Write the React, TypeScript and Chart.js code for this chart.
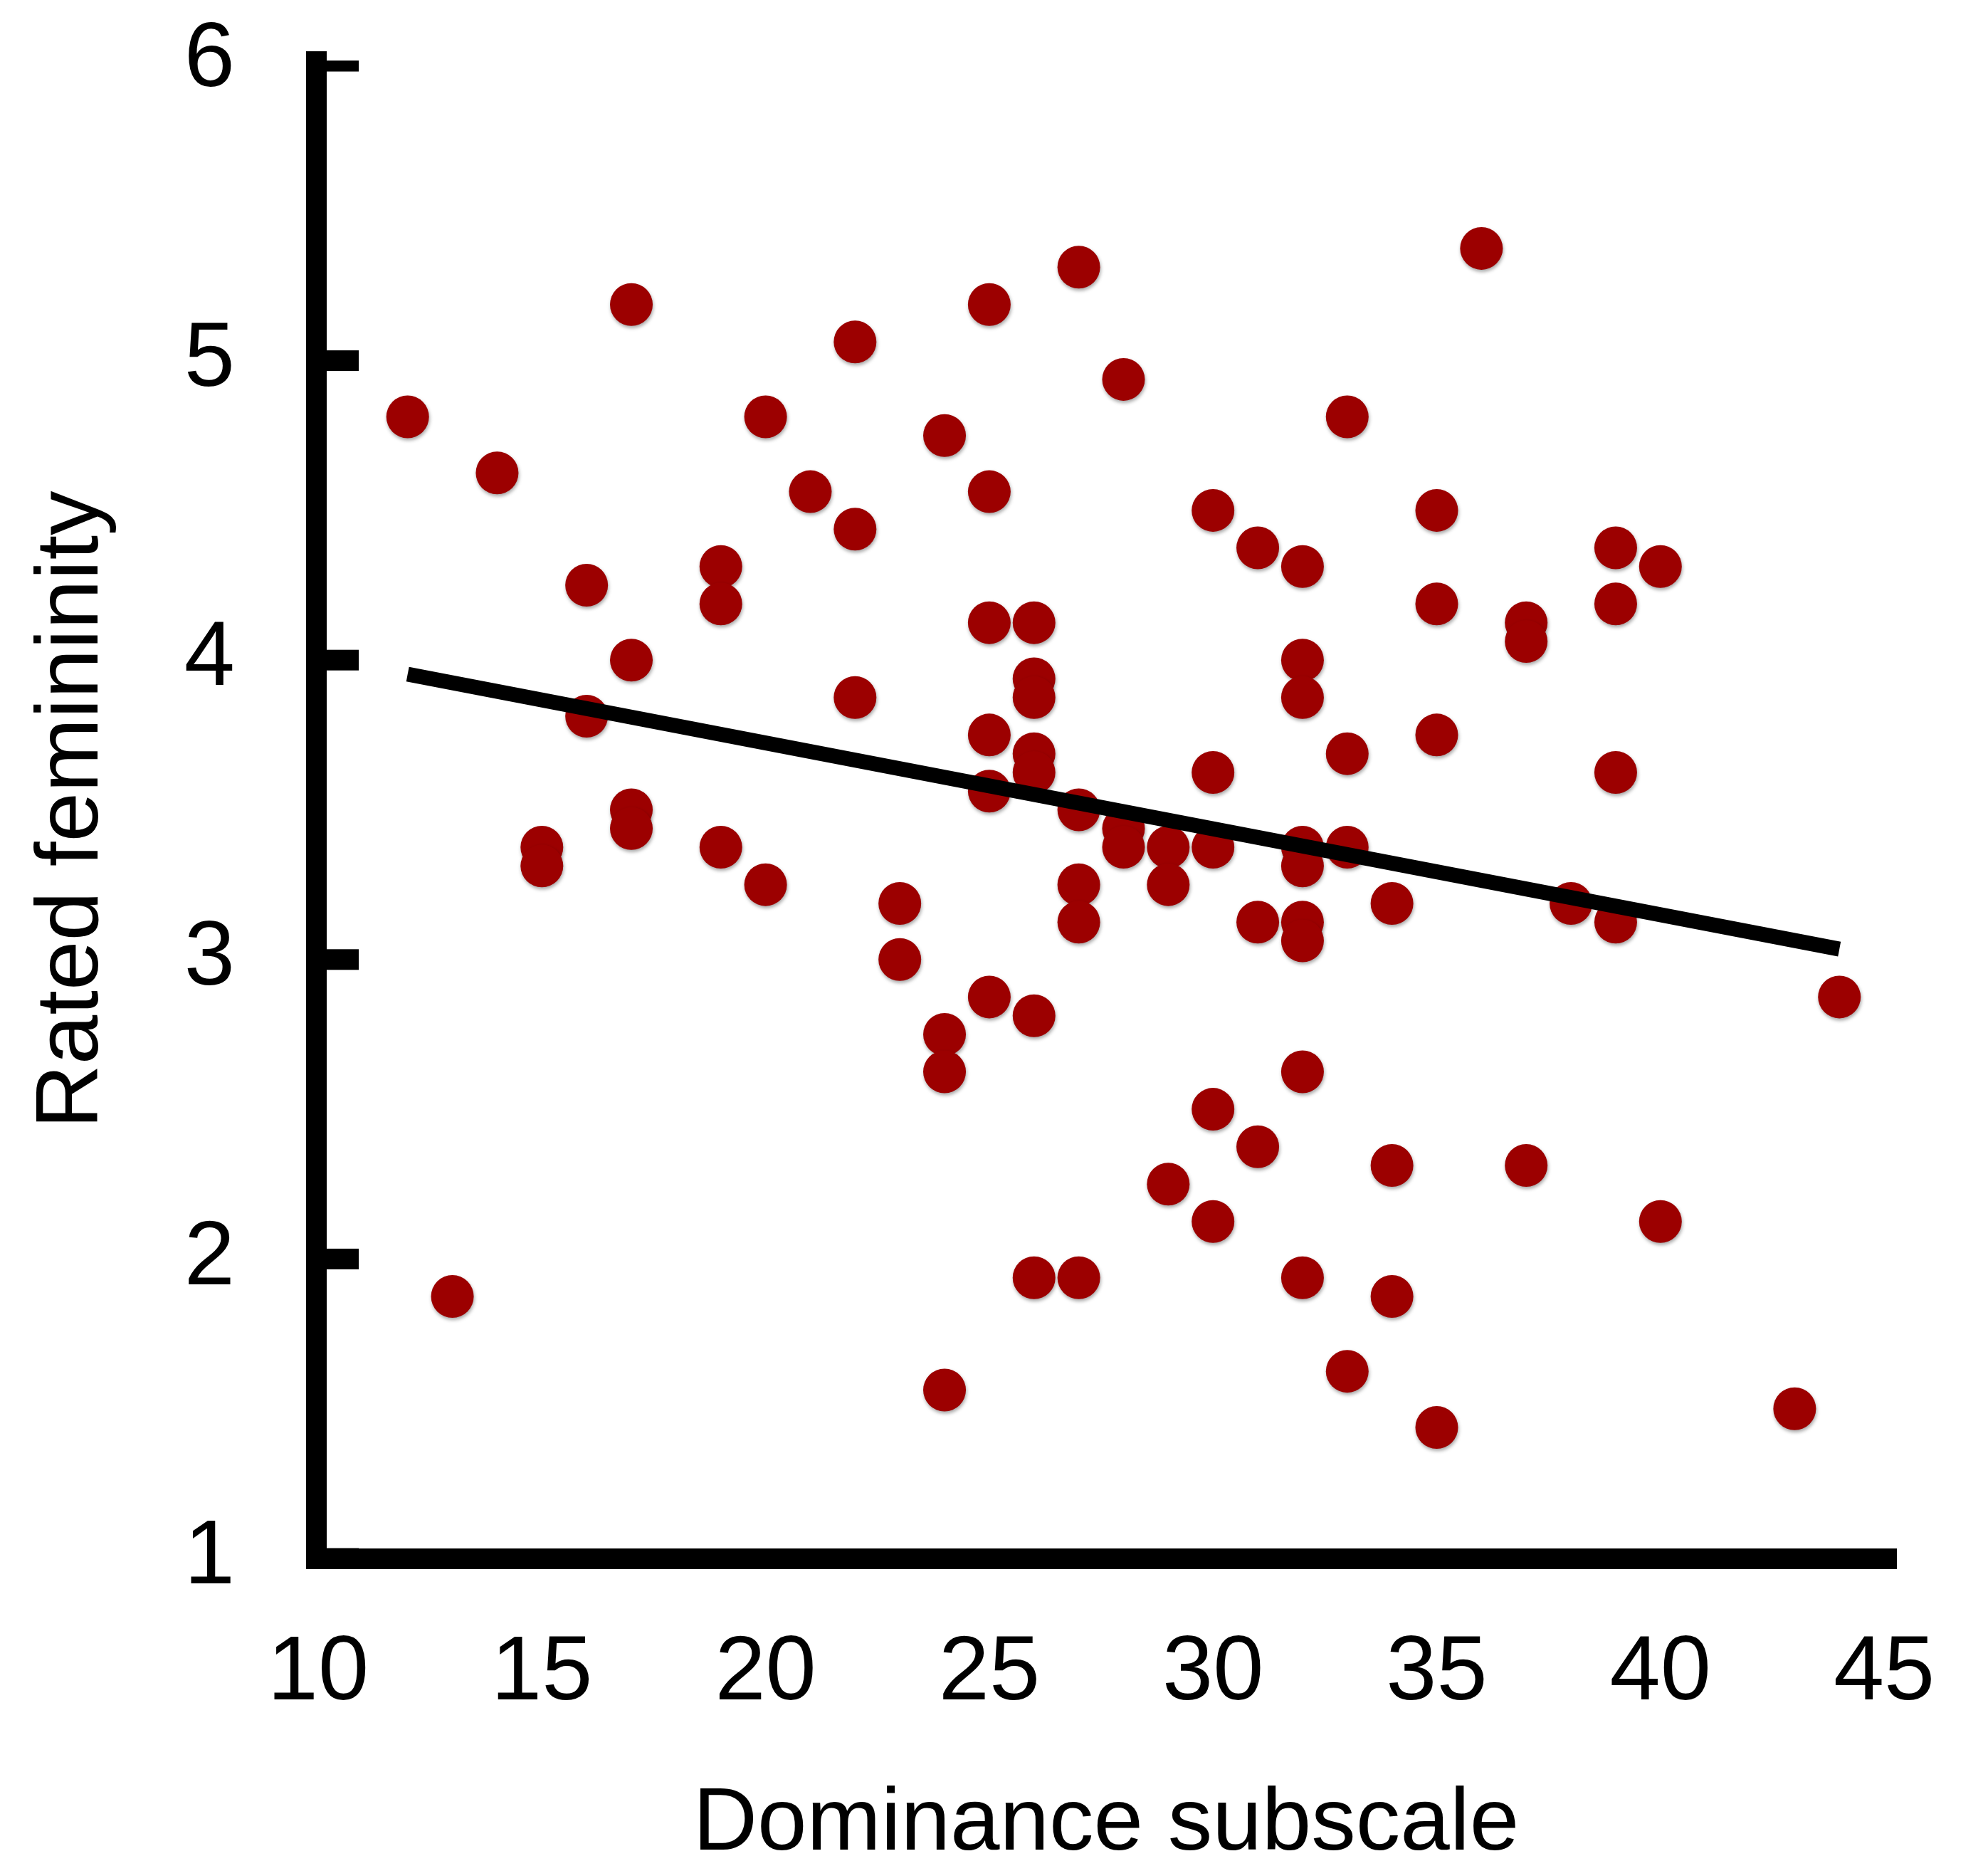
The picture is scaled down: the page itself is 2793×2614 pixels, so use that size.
import React, { useEffect, useRef } from 'react';
import { Chart, registerables } from 'chart.js';

Chart.register(...registerables);

// Dominance subscale score (x) for each participant
const dominanceScores: number[] = [
  12,
  13,
  14,
  15, 15,
  16, 16,
  17, 17, 17, 17,
  19, 19, 19,
  20, 20,
  21,
  22, 22, 22,
  23, 23,
  24, 24, 24, 24,
  25, 25, 25, 25, 25, 25,
  26, 26, 26, 26, 26, 26, 26,
  27, 27, 27, 27, 27,
  28, 28, 28,
  29, 29, 29,
  30, 30, 30, 30, 30,
  31, 31, 31,
  32, 32, 32, 32, 32, 32, 32, 32, 32,
  33, 33, 33, 33,
  34, 34, 34,
  35, 35, 35, 35,
  36,
  37, 37, 37,
  38,
  39, 39, 39, 39,
  40, 40,
  43,
  44,
];

// Rated femininity (y) for each participant
const femininityRatings: number[] = [
  4.8125,
  1.875,
  4.625,
  3.375, 3.3125,
  4.25, 3.8125,
  5.1875, 4.0, 3.5, 3.4375,
  4.3125, 4.1875, 3.375,
  4.8125, 3.25,
  4.5625,
  5.0625, 4.4375, 3.875,
  3.1875, 3.0,
  4.75, 2.75, 2.625, 1.5625,
  5.1875, 4.5625, 4.125, 3.75, 3.5625, 2.875,
  4.125, 3.9375, 3.875, 3.6875, 3.625, 2.8125, 1.9375,
  5.3125, 3.5, 3.25, 3.125, 1.9375,
  4.9375, 3.4375, 3.375,
  3.375, 3.25, 2.25,
  4.5, 3.625, 3.375, 2.5, 2.125,
  4.375, 3.125, 2.375,
  4.3125, 4.0, 3.875, 3.375, 3.3125, 3.125, 3.0625, 2.625, 1.9375,
  4.8125, 3.6875, 3.375, 1.625,
  3.1875, 2.3125, 1.875,
  4.5, 4.1875, 3.75, 1.4375,
  5.375,
  4.125, 4.0625, 2.3125,
  3.1875,
  4.375, 4.1875, 3.625, 3.125,
  4.3125, 2.125,
  1.5,
  2.875,
];

// Fitted regression line end points
const trendX: number[] = [12, 44];
const trendY: number[] = [3.953, 3.035];

// Axis ticks
const xTickValues: number[] = [10, 15, 20, 25, 30, 35, 40, 45];
const yTickValues: number[] = [1, 2, 3, 4, 5, 6];

const FONT_FAMILY = "'Liberation Sans', Arial, Helvetica, sans-serif";
const DOT_COLOR = 'rgb(156, 0, 0)';

const dotShadow = {
  id: 'dotShadow',
  beforeDatasetDraw(chart: any, args: any) {
    if (args.index !== 1) return;
    const ctx = chart.ctx;
    ctx.save();
    ctx.shadowColor = 'rgba(0, 0, 0, 0.35)';
    ctx.shadowBlur = 5;
    ctx.shadowOffsetX = 1;
    ctx.shadowOffsetY = 3;
  },
  afterDatasetDraw(chart: any, args: any) {
    if (args.index !== 1) return;
    chart.ctx.restore();
  },
};

const innerTicks = {
  id: 'innerTicks',
  afterDatasetsDraw(chart: any) {
    const { ctx, chartArea } = chart;
    const y = chart.scales.y;
    ctx.save();
    ctx.beginPath();
    ctx.rect(chartArea.left, chartArea.top - 1, 200, chartArea.bottom - chartArea.top + 1);
    ctx.clip();
    ctx.fillStyle = '#000';
    yTickValues.forEach((v) => {
      const py = y.getPixelForValue(v);
      ctx.fillRect(chartArea.left, py - 14.5, 60, 29);
    });
    ctx.restore();
  },
};

export default function App() {
  const canvasRef = useRef<HTMLCanvasElement | null>(null);

  useEffect(() => {
    const canvas = canvasRef.current;
    if (!canvas) return;

    const points = dominanceScores.map((x, i) => ({ x, y: femininityRatings[i] }));
    const trend = trendX.map((x, i) => ({ x, y: trendY[i] }));

    const chart = new Chart(canvas, {
      type: 'scatter',
      data: {
        datasets: [
          {
            label: 'Fit',
            data: trend,
            showLine: true,
            borderColor: '#000',
            borderWidth: 21,
            borderCapStyle: 'butt',
            pointRadius: 0,
            pointHoverRadius: 0,
            order: 1,
          } as any,
          {
            label: 'Participants',
            data: points,
            backgroundColor: DOT_COLOR,
            borderWidth: 0,
            pointRadius: 30,
            pointHoverRadius: 30,
            order: 2,
          },
        ],
      },
      options: {
        animation: false,
        responsive: false,
        devicePixelRatio: 1,
        events: [],
        layout: { padding: { left: 0, right: 129, top: 86, bottom: 0 } },
        plugins: {
          legend: { display: false },
          tooltip: { enabled: false },
          title: { display: false },
        },
        scales: {
          x: {
            type: 'linear',
            position: 'bottom',
            min: 9.9523,
            max: 45.269,
            afterBuildTicks: (scale: any) => {
              scale.ticks = xTickValues.map((value) => ({ value }));
            },
            afterFit: (scale: any) => {
              scale.height = 425;
            },
            grid: { display: false, drawTicks: true, tickLength: 86, lineWidth: 1 },
            border: { display: true, color: '#000', width: 29 },
            ticks: {
              color: '#000',
              padding: 0,
              maxRotation: 0,
              autoSkip: false,
              font: { family: FONT_FAMILY, size: 128 },
              callback: (v: any) => String(v),
            },
            title: {
              display: true,
              text: 'Dominance subscale',
              color: '#000',
              font: { family: FONT_FAMILY, size: 125 },
              padding: { top: 0, bottom: -25 },
            },
          },
          y: {
            type: 'linear',
            position: 'left',
            min: 1,
            max: 6,
            afterBuildTicks: (scale: any) => {
              scale.ticks = yTickValues.map((value) => ({ value }));
            },
            afterFit: (scale: any) => {
              scale.width = 444;
            },
            grid: { display: false, drawTicks: true, tickLength: 114, lineWidth: 1 },
            border: { display: true, color: '#000', width: 29 },
            ticks: {
              color: '#000',
              padding: 0,
              autoSkip: false,
              font: { family: FONT_FAMILY, size: 128 },
              callback: (v: any) => String(v),
            },
            title: {
              display: true,
              text: 'Rated femininity',
              color: '#000',
              font: { family: FONT_FAMILY, size: 125 },
              padding: { top: 28, bottom: 0 },
            },
          },
        },
      },
      plugins: [dotShadow, innerTicks],
    });

    return () => {
      chart.destroy();
    };
  }, []);

  return (
    <div style={{ position: 'absolute', left: 0, top: 0, width: 2793, height: 2614, background: '#fff' }}>
      <canvas ref={canvasRef} width={2793} height={2614} style={{ display: 'block', width: 2793, height: 2614 }} />
    </div>
  );
}
